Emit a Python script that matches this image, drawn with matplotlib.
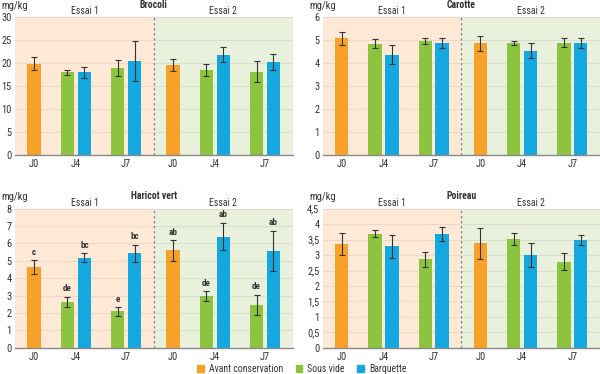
import numpy as np
import matplotlib.pyplot as plt
from matplotlib import font_manager
from matplotlib.patches import Patch

installed = {f.name for f in font_manager.fontManager.ttflist}
fam = [f for f in ['Roboto Condensed', 'Archivo Narrow', 'Barlow Semi Condensed', 'Roboto']
       if f in installed]
plt.rcParams['font.family'] = fam[:1] + ['DejaVu Sans']

days = ['J0', 'J4', 'J7']
essais = ['Essai 1', 'Essai 2']
legend_labels = ['Avant conservation', 'Sous vide', 'Barquette']

# order per essai: J0 avant, J4 sous vide, J4 barquette, J7 sous vide, J7 barquette
brocoli = [19.8, 17.9, 17.9, 18.8, 20.5, 19.5, 18.4, 21.8, 18.1, 20.2]
brocoli_err = [1.4, 0.55, 1.2, 1.75, 4.35, 1.3, 1.25, 1.7, 2.3, 1.65]

carotte = [5.06, 4.83, 4.36, 4.94, 4.85, 4.85, 4.85, 4.53, 4.88, 4.87]
carotte_err = [0.29, 0.19, 0.42, 0.12, 0.22, 0.33, 0.08, 0.32, 0.2, 0.22]

haricot = [4.64, 2.65, 5.18, 2.09, 5.43, 5.6, 2.97, 6.39, 2.46, 5.57]
haricot_err = [0.41, 0.3, 0.26, 0.24, 0.5, 0.6, 0.29, 0.79, 0.59, 1.15]
haricot_letters = ['c', 'de', 'bc', 'e', 'bc', 'ab', 'de', 'ab', 'de', 'ab']

poireau = [3.35, 3.69, 3.28, 2.86, 3.68, 3.38, 3.52, 3.0, 2.79, 3.49]
poireau_err = [0.36, 0.12, 0.38, 0.24, 0.23, 0.51, 0.2, 0.4, 0.27, 0.15]

panels = [
    ('Brocoli', brocoli, brocoli_err, None, [0, 5, 10, 15, 20, 25, 30], ['0', '5', '10', '15', '20', '25', '30']),
    ('Carotte', carotte, carotte_err, None, [0, 1, 2, 3, 4, 5, 6], ['0', '1', '2', '3', '4', '5', '6']),
    ('Haricot vert', haricot, haricot_err, haricot_letters, list(range(9)), [str(i) for i in range(9)]),
    ('Poireau', poireau, poireau_err, None, [0, 0.5, 1, 1.5, 2, 2.5, 3, 3.5, 4, 4.5],
     ['0', '0,5', '1', '1,5', '2', '2,5', '3', '3,5', '4', '4,5']),
]

c_orange = '#f7a128'
c_green = '#8cc43f'
c_blue = '#15a7e0'
bg1 = '#fde9d5'
bg2 = '#e9f0dc'
txt = '#333333'

day_pos = [0.82, 2.63, 4.8]
bw = 0.58
off = 0.365

xs, cols = [], []
for e in range(2):
    base = e * 6
    xs += [base + day_pos[0],
           base + day_pos[1] - off, base + day_pos[1] + off,
           base + day_pos[2] - off, base + day_pos[2] + off]
    cols += [c_orange, c_green, c_blue, c_green, c_blue]

fig = plt.figure(figsize=(6, 3.74), dpi=100)
rects = [
    [0.025, 0.586, 0.463, 0.369],
    [0.538, 0.586, 0.462, 0.369],
    [0.025, 0.070, 0.463, 0.372],
    [0.538, 0.070, 0.462, 0.372],
]

for (name, vals, errs, letters, yt, ytl), r in zip(panels, rects):
    ax = fig.add_axes(r)
    ymax = yt[-1]
    ax.axvspan(0, 6, color=bg1, zorder=0, lw=0)
    ax.axvspan(6, 12, color=bg2, zorder=0, lw=0)
    for y in yt[1:]:
        ax.axhline(y, color='#000000', alpha=0.07, lw=0.8, zorder=1)
    ax.axvline(6, color='#888888', lw=0.9, ls=(0, (2, 2)), zorder=2)
    ax.bar(xs, vals, width=bw, color=cols, zorder=3)
    ax.errorbar(xs, vals, yerr=errs, fmt='none', ecolor='#333333', elinewidth=0.8,
                capsize=2.5, capthick=0.8, zorder=4)
    if letters:
        for x, v, e, lab in zip(xs, vals, errs, letters):
            ax.annotate(lab, (x, v + e), xytext=(0, 2.5), textcoords='offset points',
                        ha='center', va='bottom', fontsize=6.5, fontweight='bold', color=txt)
    ax.set_xlim(0, 12)
    ax.set_ylim(0, ymax)
    ax.set_yticks(yt)
    ax.set_yticklabels(ytl)
    ax.set_xticks([p + e * 6 for e in range(2) for p in day_pos])
    ax.set_xticklabels(days * 2)
    ax.tick_params(length=0, labelsize=7.5, labelcolor=txt)
    ax.tick_params(axis='x', pad=3)
    ax.tick_params(axis='y', pad=2.5)
    for s in ['top', 'right', 'left']:
        ax.spines[s].set_visible(False)
    ax.spines['bottom'].set_color('#8a8a8a')
    ax.spines['bottom'].set_linewidth(1.0)
    ax.spines['bottom'].set_zorder(5)
    ax.annotate(name, (0.5, 1), xycoords='axes fraction', xytext=(0, 5.2),
                textcoords='offset points', ha='center', va='bottom',
                fontsize=7, fontweight='bold', color=txt)
    for i, es in enumerate(essais):
        ax.annotate(es, (0.25 + 0.5 * i, 1), xycoords='axes fraction', xytext=(0, 0.5),
                    textcoords='offset points', ha='center', va='bottom',
                    fontsize=7, color=txt)
    ax.annotate('mg/kg', (0, 1), xycoords='axes fraction', xytext=(-10, 4.5),
                textcoords='offset points', ha='left', va='bottom',
                fontsize=7.5, color=txt)

handles = [Patch(color=c) for c in [c_orange, c_green, c_blue]]
fig.legend(handles, legend_labels, loc='center', bbox_to_anchor=(0.503, 0.014),
           ncol=3, frameon=False, fontsize=7, handlelength=0.7, handleheight=0.7,
           handletextpad=0.5, columnspacing=1.3, labelcolor=txt, borderpad=0)

fig.savefig('out.png', dpi=100)
